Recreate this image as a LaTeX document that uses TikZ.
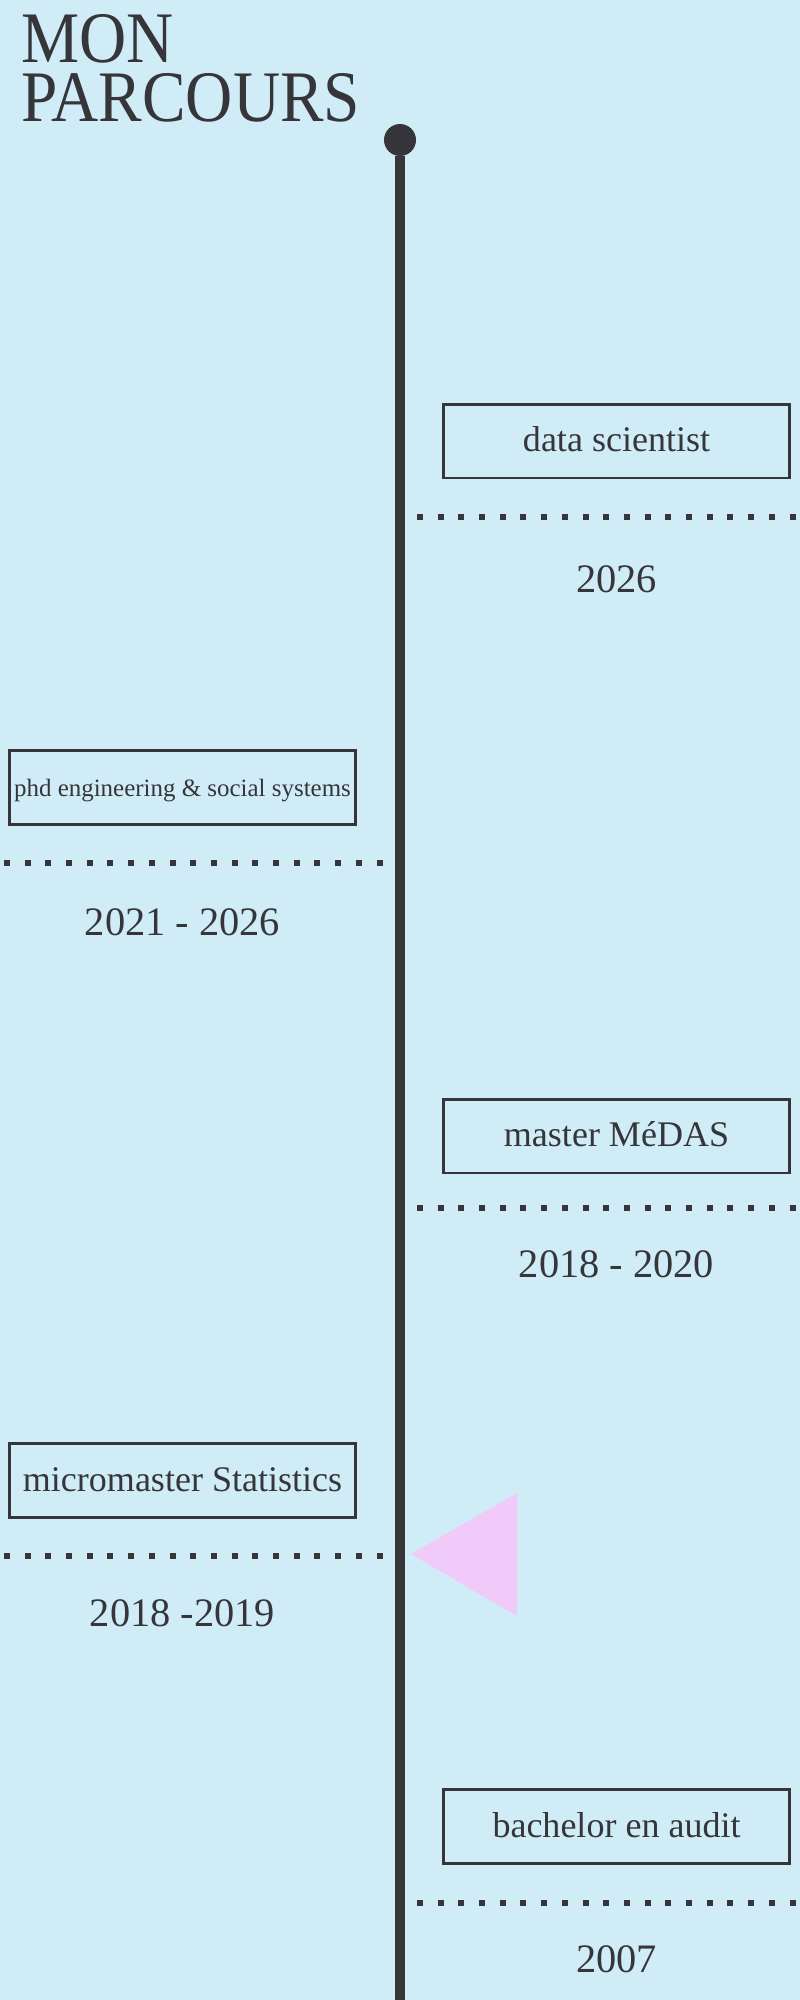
\documentclass[tikz,border=0pt]{standalone}
\usepackage{fontspec}
\setmainfont{Liberation Serif}
\newfontfamily\titlefont[FakeStretch=0.9]{Liberation Serif}
\definecolor{sky}   {RGB}{208,237,247}
\definecolor{ink}   {RGB}{53,53,58}
\definecolor{lilac} {RGB}{240,202,248}
\tikzset{
    stage/.style={draw=ink, line width=1.7pt, inner sep=0pt, text=ink,
             minimum width=6.92cm, minimum height=1.48cm,
             text height=14pt, text depth=1.5pt,
             font=\fontsize{20.5pt}{24pt}\selectfont},
    small/.style={text height=10pt, text depth=0.3pt,
             font=\fontsize{14.2pt}{17pt}\selectfont},
    year/.style={text=ink, inner sep=0pt, anchor=base,
             font=\fontsize{23pt}{27pt}\selectfont},
    title/.style={text=ink, inner sep=0pt, anchor=base west,
             text height=27.5pt, text depth=0pt,
             font=\titlefont\fontsize{41.3pt}{48pt}\selectfont},
    dots/.style={draw=ink, line width=3.4pt, dash pattern=on 3.41pt off 8.37pt},
    timeline/.style={draw=ink, line width=5.7pt}
  }
\begin{document}
\begin{tikzpicture}[x=0.02cm, y=-0.02cm]
 % background
     \fill[sky] (0,0) rectangle (800,2000);
     \useasboundingbox (0,0) rectangle (800,2000);
 % title
     \node[title] (mon) at (21,63) {MON};
     \node[title] (parcours) at (21,122) {PARCOURS};
 % timeline
     \node[circle, fill=ink, inner sep=0pt, minimum size=0.64cm] (top) at (400,140) {};
     \coordinate (bottom) at (400,2000);
     \draw[timeline] (top) -- (bottom);
 % pointer
     \fill[lilac] (411,1554) -- (517,1493) -- (517,1616) -- cycle;
 % data scientist
     \node[stage] (scientist) at (616.5,441) {data scientist};
     \draw[dots] (417,517) -- (800,517);
     \node[year] (y2026) at (616.5,592) {2026};
 % phd
     \node[stage, small] (phd) at (182.5,787.5) {phd engineering \& social systems};
     \draw[dots] (4,863) -- (384,863);
     \node[year] (y2021) at (182.5,935) {2021 - 2026};
 % master
     \node[stage] (medas) at (616.5,1136) {master MéDAS};
     \draw[dots] (417,1208) -- (800,1208);
     \node[year] (y2018) at (616.5,1277) {2018 - 2020};
 % micromaster
     \node[stage] (micro) at (182.5,1480.5) {micromaster Statistics};
     \draw[dots] (4,1556) -- (384,1556);
     \node[year] (y2019) at (182.5,1626) {2018 -2019};
 % bachelor
     \node[stage] (audit) at (616.5,1826.5) {bachelor en audit};
     \draw[dots] (417,1903) -- (800,1903);
     \node[year] (y2007) at (616.5,1972) {2007};
 \end{tikzpicture}
\end{document}
